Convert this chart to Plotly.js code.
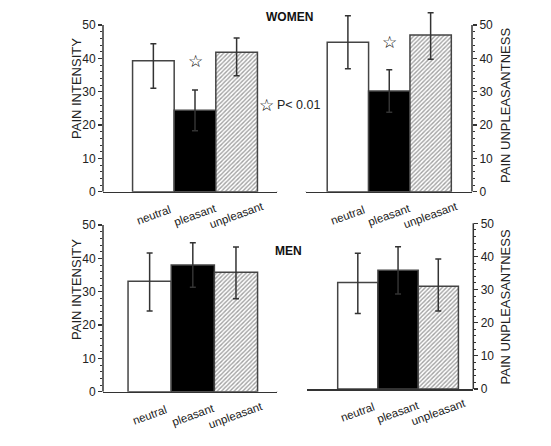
<!DOCTYPE html>
<html><head><meta charset="utf-8">
<script src="https://cdn.plot.ly/plotly-3.0.1.min.js"></script>
<style>html,body{margin:0;padding:0;background:#fff}#chart{width:551px;height:446px}</style>
</head><body><div id="chart"></div>
<script>
const categories = ['neutral', 'pleasant', 'unpleasant'];

const womenIntensity = [39.3, 24.4, 41.8];
const womenIntensityPlus = [5.1, 6.1, 4.3];
const womenIntensityMinus = [8.3, 6.1, 7.0];

const womenUnpleasantness = [44.8, 30.2, 47.0];
const womenUnpleasantnessPlus = [8.0, 6.4, 6.7];
const womenUnpleasantnessMinus = [7.9, 6.4, 7.3];

const menIntensity = [33.1, 38.0, 35.8];
const menIntensityPlus = [8.5, 6.7, 7.6];
const menIntensityMinus = [8.9, 6.7, 7.9];

const menUnpleasantness = [32.1, 35.8, 31.0];
const menUnpleasantnessPlus = [8.9, 7.1, 8.2];
const menUnpleasantnessMinus = [9.3, 7.1, 7.5];

const yTickVals = [0, 10, 20, 30, 40, 50];
const yMinorVals = [2, 4, 6, 8, 12, 14, 16, 18, 22, 24, 26, 28, 32, 34, 36, 38, 42, 44, 46, 48];
const yAxisTop = 50;
const yRangeTop = 55;
const starPanels = [true, true, false, false];
const groupLabels = ['WOMEN', 'MEN'];
const axisTitles = ['PAIN INTENSITY', 'PAIN UNPLEASANTNESS'];
const sigLabel = 'P< 0.01';

const W = 551, H = 446;
const px = v => v / W, py = v => 1 - v / H;

// pixel geometry: xd = x-axis extent, y0/y50 = pixel rows of values 0 and 50
const panels = [
  {vals: womenIntensity, plus: womenIntensityPlus, minus: womenIntensityMinus,
   xd: [103, 277], y0: 191.7, y50: 25, xr: [-1.21, 2.97], side: 'left'},
  {vals: womenUnpleasantness, plus: womenUnpleasantnessPlus, minus: womenUnpleasantnessMinus,
   xd: [305.7, 472], y0: 191.7, y50: 25, xr: [-1.02, 3.0], side: 'right'},
  {vals: menIntensity, plus: menIntensityPlus, minus: menIntensityMinus,
   xd: [103, 277], y0: 391.7, y50: 225, xr: [-1.08, 2.95], side: 'left'},
  {vals: menUnpleasantness, plus: menUnpleasantnessPlus, minus: menUnpleasantnessMinus,
   xd: [306.7, 473.3], y0: 389, y50: 223.3, xr: [-1.27, 2.87], side: 'right'}
];

const FONT = 'Liberation Sans, Arial, sans-serif';
const AX = '#333';
const STAR = '<b>☆</b>';
const data = [];
const layout = {
  width: W, height: H, margin: {l: 0, r: 0, t: 0, b: 0},
  paper_bgcolor: '#fff', plot_bgcolor: 'rgba(0,0,0,0)',
  showlegend: false, bargap: 0, hovermode: false,
  font: {family: FONT, color: '#222'},
  annotations: [], shapes: []
};

panels.forEach((p, i) => {
  const n = i + 1;
  const sfx = n === 1 ? '' : String(n);
  const xa = 'x' + sfx, ya = 'y' + sfx;
  const topPx = p.y0 - (p.y0 - p.y50) * yRangeTop / yAxisTop;
  data.push({
    type: 'bar', x: categories, y: p.vals, xaxis: xa, yaxis: ya,
    width: 1, cliponaxis: false,
    marker: {
      color: ['#ffffff', '#000000', '#ffffff'],
      line: {color: '#444', width: 1.5},
      pattern: {shape: ['', '', '/'], fgcolor: '#555', size: 3, solidity: 0.45, fillmode: 'overlay'}
    },
    error_y: {type: 'data', symmetric: false, array: p.plus, arrayminus: p.minus,
              color: AX, thickness: 1.5, width: 3}
  });
  layout['xaxis' + sfx] = {
    domain: [px(p.xd[0]), px(p.xd[1])], range: p.xr, type: 'category',
    anchor: ya, showline: true, linecolor: AX, linewidth: 1.5,
    ticks: '', showticklabels: false, showgrid: false, zeroline: false, fixedrange: true
  };
  layout['yaxis' + sfx] = {
    domain: [py(p.y0), py(topPx)], range: [0, yRangeTop], anchor: xa, side: p.side,
    tickvals: yTickVals, ticks: 'outside', ticklen: 4, tickwidth: 1.2, tickcolor: AX,
    minor: {tickvals: yMinorVals, ticks: 'outside', ticklen: 2, tickcolor: AX, tickwidth: 1},
    showline: false, showgrid: false, zeroline: false,
    tickfont: {family: FONT, size: 12, color: '#222'}, fixedrange: true
  };
  const edge = p.side === 'left' ? 0 : 1;
  // y axis line up to 50 only
  layout.shapes.push({type: 'line', xref: xa + ' domain', yref: ya, x0: edge, x1: edge,
    y0: 0, y1: yAxisTop, line: {color: AX, width: 1.5}, layer: 'above'});
  // small end tick at the far end of the x axis
  layout.shapes.push({type: 'line', xref: xa + ' domain', yref: ya, x0: 1 - edge, x1: 1 - edge,
    ysizemode: 'pixel', yanchor: 0, y0: 0, y1: -4, line: {color: AX, width: 1.2}, layer: 'above'});

  categories.forEach(c => {
    layout.annotations.push({
      xref: xa, yref: ya, x: c, y: 0, yshift: -23, text: c, showarrow: false,
      xanchor: 'center', yanchor: 'middle',
      textangle: -20, font: {family: FONT, size: 11.5, color: '#222'}
    });
  });
  if (starPanels[i]) {
    layout.annotations.push({
      xref: xa, yref: ya, x: categories[1], y: p.vals[0], text: STAR, showarrow: false,
      xanchor: 'center', yanchor: 'middle',
      font: {family: 'DejaVu Sans', size: 17, color: '#000'}
    });
  }
});

// axis titles
[[76, 89, 0], [76, 290, 0], [505, 106, 1], [505, 307.5, 1]].forEach(t => {
  layout.annotations.push({xref: 'paper', yref: 'paper', x: px(t[0]), y: py(t[1]),
    xanchor: 'center', yanchor: 'middle',
    text: axisTitles[t[2]], textangle: -90, showarrow: false,
    font: {family: FONT, size: 13, color: '#222'}});
});
layout.annotations.push({xref: 'paper', yref: 'paper', x: px(289.5), y: py(16.7),
  xanchor: 'center', yanchor: 'middle',
  text: '<b>' + groupLabels[0] + '</b>', showarrow: false, font: {family: FONT, size: 12, color: '#111'}});
layout.annotations.push({xref: 'paper', yref: 'paper', x: px(288), y: py(251),
  xanchor: 'center', yanchor: 'middle',
  text: '<b>' + groupLabels[1] + '</b>', showarrow: false, font: {family: FONT, size: 12, color: '#111'}});
layout.annotations.push({xref: 'paper', yref: 'paper', x: px(266), y: py(105),
  xanchor: 'center', yanchor: 'middle',
  text: STAR, showarrow: false, font: {family: 'DejaVu Sans', size: 17, color: '#000'}});
layout.annotations.push({xref: 'paper', yref: 'paper', x: px(298.7), y: py(105),
  xanchor: 'center', yanchor: 'middle',
  text: sigLabel, showarrow: false, font: {family: FONT, size: 12.5, color: '#222'}});

Plotly.newPlot('chart', data, layout, {displayModeBar: false, staticPlot: true});
</script>
</body></html>
